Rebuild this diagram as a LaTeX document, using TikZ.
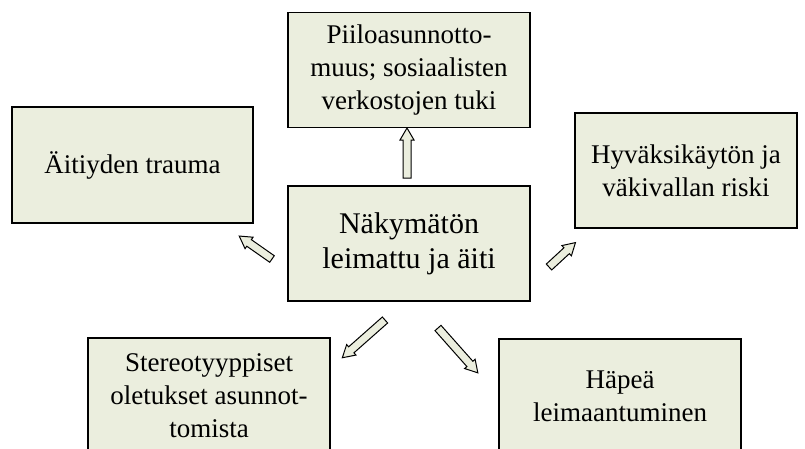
\documentclass[tikz,border=0pt]{standalone}
\usepackage{fontspec}
\setmainfont{Liberation Serif}
\definecolor{boxfill}{RGB}{235,238,222}
\tikzset{
  box/.style={draw=black, line width=1.3pt, fill=boxfill, rectangle,
    minimum width=242pt, minimum height=115pt, align=center, inner sep=0pt,
    font=\fontsize{27}{33}\selectfont},
  barrow/.pic={
    \draw[line width=1pt, fill=boxfill, line join=miter]
      (0,-4) -- (#1-12,-4) -- (#1-12,-7) -- (#1,0) -- (#1-12,7) -- (#1-12,4) -- (0,4) -- cycle;
  }
}
\begin{document}
\begin{tikzpicture}[x=1pt,y=1pt]
\useasboundingbox (0,0) rectangle (805,448);
\clip (0,0) rectangle (805,448);
\fill[white] (0,0) rectangle (805,448);
\node[box] (top) at (409,378) {Piiloasunnotto-\\muus; sosiaalisten\\verkostojen tuki};
\node[box, font=\fontsize{30}{35}\selectfont] (center) at (409,204.5) {Näkymätön\\leimattu ja äiti};
\node[box, minimum width=241pt, minimum height=116pt] (left) at (132.5,283) {Äitiyden trauma};
\node[box, minimum width=222pt] (right) at (686,277.5) {Hyväksikäytön ja\\väkivallan riski};
\node[box] (bl) at (209,52.5) {Stereotyyppiset\\oletukset asunnot-\\tomista};
\node[box] (br) at (620,51.5) {Häpeä\\leimaantuminen};
\coordinate (aup) at (407,270);
\coordinate (aleft) at (272,189);
\coordinate (aright) at (549,181);
\coordinate (abl) at (385,128);
\coordinate (abr) at (438,120);
\pic[rotate=90] at (aup) {barrow=50};
\pic[rotate=145] at (aleft) {barrow=40};
\pic[rotate=42.7] at (aright) {barrow=36};
\pic[rotate=221.5] at (abl) {barrow=57};
\pic[rotate=-48.4] at (abr) {barrow=60};
\end{tikzpicture}
\end{document}
